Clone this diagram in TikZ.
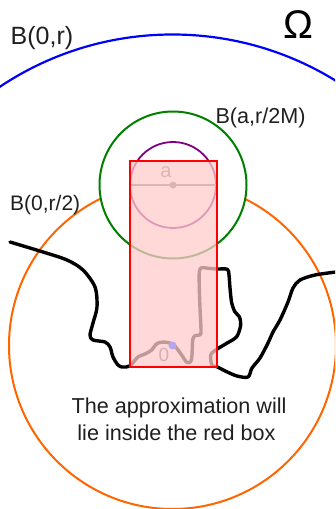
\documentclass[tikz,border=0pt]{standalone}
\usepackage{fontspec}
\setmainfont{Liberation Sans}
\definecolor{ringorange}{RGB}{255,102,0}
\definecolor{ringgreen}{RGB}{0,128,0}
\definecolor{ringpurple}{RGB}{128,0,128}
\definecolor{dotlav}{RGB}{185,165,235}
\begin{document}
\begin{tikzpicture}[x=1pt,y=-1pt,
  lbl/.style={inner sep=0pt, text=black!88},
  ring/.style={line width=2pt}]
\useasboundingbox (0,0) rectangle (335,509);
\clip (0,0) rectangle (335,509);
\coordinate (O) at (172.5,345.5);
\coordinate (A) at (173,185);
% big circles
\draw[ring, blue, line width=2.2pt] (O) circle[radius=311pt];
\draw[ring, ringorange] (O) circle[radius=163.5pt];
\draw[ring, ringgreen, fill=white] (A) circle[radius=73.5pt];
\draw[ring, ringpurple, line width=1.8pt] (A) circle[radius=43pt];
% diameter and centre
\coordinate (dl) at (130,185);
\coordinate (dr) at (216,185);
\draw[line width=1.8pt, black!55] (dl) -- (dr);
\fill[black!55] (A) circle[radius=3.5pt];
\node[lbl, anchor=base, font=\fontsize{20}{24}\selectfont, text=black!55] (alabel) at (166,177.3) {a};
\node[lbl, anchor=base, font=\fontsize{19}{22}\selectfont, text=black!65] (olabel) at (164,361) {0};
% boundary curve
\draw[line width=3.4pt, line join=round, line cap=round]
  plot[smooth, tension=0.5] coordinates {
  (10,242) (43,252) (67,260) (83,270) (95,287) (97,307) (93,323) (90,335) (93,340)
  (105,342) (110,347) (113,357) (118,365) (122,367) (126,367) (130,365.7)
  (133.3,362.3) (138.3,356.7) (145,354) (151.7,350) (156,344.3) (160.7,342.3)
  (166.7,342.3) (173.3,344.3) (176.7,348.3) (181.7,355) (186.7,362.3) (190.7,361.7)
  (192,355) (192.7,340) (195,335.7) (199.3,335) (201,331.7) (200,308.3) (199.3,288)
  (199.3,271.7) (201.7,267.7) (208.3,268.3) (216.7,269) (227.3,269.3) (229,275)
  (230,288) (231.7,303) (235,312) (239.3,316.7) (240.7,325) (236.7,336.7)
  (226.7,343.3) (218.3,348.3) (213.3,351.7) (210.7,355) (211,361.7) (212.3,365.7)
  (216.7,366.7) (226.7,371.7) (237,376) (248,377) (252,368) (260,358) (268,343)
  (273,332) (280,320) (288,302) (293,288) (300,280) (315,275) (336,272)};
% red box
\node[draw=red, line width=2pt, fill=red!20, fill opacity=0.75, inner sep=0pt,
      minimum width=86.5pt, minimum height=205.5pt] (box) at (173.25,263.75) {};
% origin dot
\fill[dotlav] (O) circle[radius=4pt];
% labels
\node[lbl, anchor=base west, font=\fontsize{25}{30}\selectfont] (Br) at (10.5,44.3) {B(0,r)};
\node[lbl, anchor=base west, font=\fontsize{21.6}{26}\selectfont] (Ba) at (215.3,123.3) {B(a,r/2M)};
\node[lbl, anchor=base west, font=\fontsize{21}{25}\selectfont] (Bh) at (10,210.7) {B(0,r/2)};
\node[lbl, anchor=center, font=\fontsize{40}{44}\selectfont, text=black] (Om) at (298,24.7) {Ω};
\node[lbl, anchor=base, font=\fontsize{21.6}{27}\selectfont] (t1) at (179,413.3) {The approximation will};
\node[lbl, anchor=base, font=\fontsize{21.6}{27}\selectfont] (t2) at (176.5,440.5) {lie inside the red box};
\end{tikzpicture}
\end{document}
